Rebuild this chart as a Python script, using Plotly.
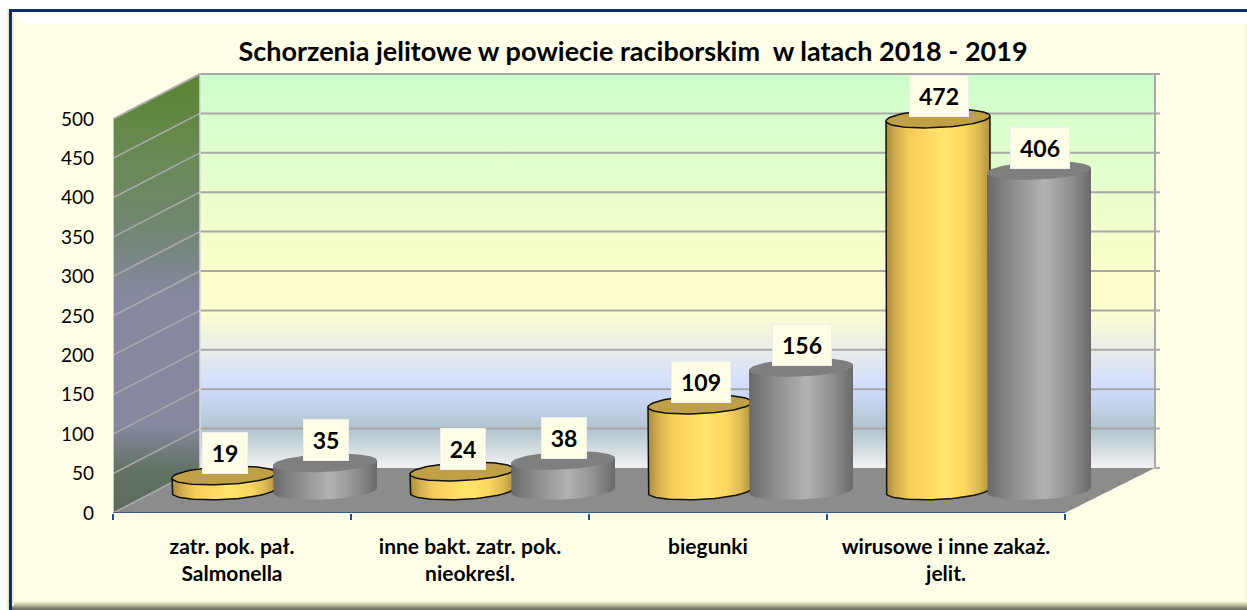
import numpy as np
import plotly.graph_objects as go

categories = ["zatr. pok. pał.<br>Salmonella", "inne bakt. zatr. pok.<br>nieokreśl.",
              "biegunki", "wirusowe i inne zakaż.<br>jelit."]
values_2018 = [19, 24, 109, 472]
values_2019 = [35, 38, 156, 406]
y_ticks = [0, 50, 100, 150, 200, 250, 300, 350, 400, 450, 500]
title_text = "Schorzenia jelitowe w powiecie raciborskim\u00a0 w latach 2018 - 2019"

W, H = 1247, 610
L, R, T, B = 113, 87, 73, 97
PX_X = 238.0            # pixels per category
PX_Y = 0.788            # pixels per value unit
X_MAX = (W - L - R) / PX_X
Y_MAX = (H - T - B) / PX_Y
DX = 87 / PX_X          # depth of the 3-D box
DY = 45 / PX_Y
FONT = "Lato"
PANEL = "#FFFFE8"
GRID = "#A8A8A8"


def px(x):
    return (x - L) / (W - L - R)


def py(y):
    return (H - B - y) / (H - T - B)


fig = go.Figure()


def poly(x, y, **kw):
    fig.add_trace(go.Scatter(x=x, y=y, mode=kw.pop("mode", "lines"), fill=kw.pop("fill", "toself"),
                             line=kw.pop("line", dict(width=0)), hoverinfo="skip",
                             showlegend=False, cliponaxis=False, **kw))


# left wall
poly([0, DX, DX, 0], [0, DY, 500 + DY, 500],
     fillgradient=dict(type="vertical", start=0, stop=500 + DY,
                       colorscale=[[0, "#5C6A5E"], [0.1, "#637264"], [0.2, "#85889F"], [0.5, "#85889F"],
                                   [0.62, "#758578"], [0.8, "#6A8A58"], [1, "#5A8430"]]))
# back wall
wx = X_MAX - 5 / PX_X
poly([DX, wx, wx, DX], [DY, DY, 500 + DY, 500 + DY],
     fillgradient=dict(type="vertical", start=DY, stop=500 + DY,
                       colorscale=[[0, "#F2F2F2"], [0.1, "#B0C4CC"], [0.2, "#D0DCFF"], [0.3, "#E8ECEA"],
                                   [0.4, "#FFFFD0"], [0.5, "#FCFFCC"], [1, "#CCFFCC"]]))
# floor
poly([0, DX, wx, 4], [0, DY, DY, 0], fillcolor="#8C8C8C")

# grid: side wall and back wall, with a small tick right of the wall
sx, sy, bx, by = [], [], [], []
for v in y_ticks:
    sx += [0, DX, None]
    sy += [v, v + DY, None]
    if v > 0:
        bx += [DX, X_MAX, None]
        by += [v + DY, v + DY, None]
    else:
        bx += [wx, X_MAX, None]
        by += [v + DY, v + DY, None]
poly(sx, sy, fill="none", line=dict(color="#ABABAB", width=1.5))
poly(bx, by, fill="none", line=dict(color=GRID, width=2))
poly([wx, wx], [DY, 500 + DY], fill="none", line=dict(color=GRID, width=2))
poly([DX, DX], [DY, 500 + DY], fill="none", line=dict(color="#D8D8D8", width=1.5))
poly([0, 0], [0, 500], fill="none", line=dict(color="#E4E4E4", width=1.5))
poly([0, DX], [500, 500 + DY], fill="none", line=dict(color="#ABABAB", width=1.5))
poly([0, 4], [0, 0], fill="none", line=dict(color="#1F4A96", width=1.5))

YELLOW = [[0, "#A88A3C"], [0.1, "#D4B050"], [0.22, "#F4CC5A"], [0.32, "#FFD460"], [0.55, "#FFE46C"],
          [0.75, "#FFD860"], [0.9, "#D8B850"], [1, "#B09040"]]
GREY = [[0, "#686868"], [0.15, "#808080"], [0.55, "#B2B2B2"], [0.8, "#909090"], [1, "#6A6A6A"]]
RX = 52 / PX_X
RY = 9 / PX_Y
TILT = 2.5 / PX_Y
BASE = DY / 2


def cylinder(cx, value, scale, top, outline):
    tb = np.linspace(np.pi, 2 * np.pi, 40)
    xb = cx + RX * np.cos(tb)
    yb = BASE + RY * np.sin(tb) + TILT * np.cos(tb)
    xs = [cx - RX] + list(xb) + [cx + RX]
    ys = [BASE + value - TILT] + list(yb) + [BASE + value + TILT]
    line = dict(color="#101010", width=1.5) if outline else dict(width=0)
    poly(xs, ys, line=line,
         fillgradient=dict(type="horizontal", start=cx - RX, stop=cx + RX, colorscale=scale))
    t = np.linspace(0, 2 * np.pi, 80)
    poly(cx + RX * np.cos(t), BASE + value + RY * np.sin(t) + TILT * np.cos(t),
         fillcolor=top, line=line)


annotations = []
for i, (a, b) in enumerate(zip(values_2018, values_2019)):
    ca, cb = i + 111 / PX_X, i + 212 / PX_X
    cylinder(ca, a, YELLOW, "#BFA046", True)
    cylinder(cb, b, GREY, "#7F7F7F", False)
    for c, v in ((ca, a), (cb, b)):
        annotations.append(dict(x=c, y=BASE + v, xref="x", yref="y", yshift=23, xshift=1,
                                text=f"<b>{v}</b>", showarrow=False, width=14 * len(str(v)) + 16, height=40,
                                bgcolor=PANEL, bordercolor="#EFEFEF", borderwidth=1, borderpad=0,
                                font=dict(family=FONT, size=23, color="#000000")))

# frame and bevel
shapes = []


def rect(x0, y0, x1, y1, color):
    shapes.append(dict(type="rect", xref="paper", yref="paper", x0=px(x0), x1=px(x1), y0=py(y0), y1=py(y1),
                       fillcolor=color, line=dict(width=0), layer="below"))


rect(6, 9, 8, H, "#F0F6EA")
rect(8, 9, 9, H, "#D4E0CC")
rect(9, 9, W, H, "#0B2D6E")
rect(12, 12, W, H, PANEL)
rect(12, 12, 14, H, "#F0F0D4")
rect(W - 2, 12, W, H, "#F4F4DC")
shapes.append(dict(type="path", xref="paper", yref="paper", layer="below", fillcolor="#FFFFFF", line=dict(width=0),
                   path=f"M {px(12)} {py(12)} L {px(W)} {py(12)} L {px(W)} {py(24)} L {px(25)} {py(24)} Z"))
for y0, c in zip(range(600, 610), ["#FBFBE0", "#F4F4D8", "#E8E8C8", "#D8D8B8", "#C8C8A8",
                                   "#B4B498", "#A0A088", "#8C8C78", "#7C7C6C", "#707062"]):
    rect(14 if y0 < 606 else 12, y0, W, y0 + 1, c)

fig.update_layout(
    width=W, height=H, autosize=False,
    margin=dict(l=L, r=R, t=T, b=B, pad=0),
    paper_bgcolor="#FFFFFF", plot_bgcolor="rgba(0,0,0,0)",
    font=dict(family=FONT, color="#000000"),
    showlegend=False, hovermode=False,
    shapes=shapes, annotations=annotations,
    title=dict(text=f"<b>{title_text}</b>", x=px(633), xref="paper", xanchor="center",
               y=1 - 52 / H, yanchor="middle", font=dict(family=FONT, size=27, color="#000000")),
    xaxis=dict(range=[0, X_MAX], tickmode="array", tickvals=[i + 0.5 for i in range(len(categories))],
               ticktext=[f'<b>{c}</b>' for c in categories], showgrid=False, zeroline=False, showline=False,
               ticks="", tickangle=0, tickfont=dict(family=FONT, size=21, color="#000000"),
               ticklabelstandoff=19,
               minor=dict(tickmode="array", tickvals=[0, 1, 2, 3, 4], ticks="outside", ticklen=6, tickwidth=1.5,
                          tickcolor="#1F4A96", showgrid=False)),
    yaxis=dict(range=[0, Y_MAX], tickmode="array", tickvals=y_ticks, ticktext=[str(v) for v in y_ticks],
               showgrid=False, zeroline=False, showline=False, ticks="",
               tickfont=dict(family=FONT, size=19, color="#000000"), ticklabelstandoff=18),
)

fig.write_html("out.html", config=dict(displayModeBar=False),
               post_script="document.body.style.margin='0';document.body.style.overflow='hidden';")
